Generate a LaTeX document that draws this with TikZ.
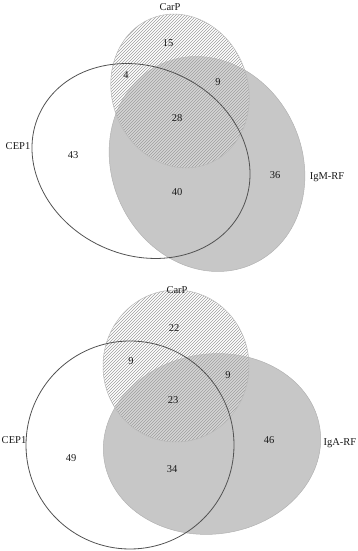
\documentclass[tikz,border=0pt]{standalone}
\usepackage{fontspec}
\setmainfont{Liberation Serif}
\usepackage{tikz}
\usetikzlibrary{patterns}

\begin{document}
\begin{tikzpicture}[
    x=1pt,y=1pt,
    font=\fontsize{10.5}{12}\selectfont,
    rfset/.style={fill=black!22,draw=black!30,line width=0.5pt},
    carpset/.style={fill=white,fill opacity=0.25,
      postaction={pattern=north east lines,pattern color=black!38,
        fill opacity=1,draw=black!28,line width=0.5pt}},
    cepset/.style={draw=black!68,line width=0.8pt},
    setname/.style={text=black!90,inner sep=1pt},
    count/.style={text=black!90,inner sep=1pt}
]
\useasboundingbox (0,0) rectangle (358,551);

% upper diagram: CEP1, CarP, IgM-RF
\path[rfset]   (207,387) circle[x radius=95,y radius=110,rotate=25];
\path[carpset] (180,460) circle[x radius=68,y radius=78,rotate=20];
\path[cepset]  (141,390) circle[x radius=112,y radius=94,rotate=-25];

\node[setname] (carpA) at (170,544) {CarP};
\node[setname] (cepA)  at (18,405)  {CEP1};
\node[setname] (igm)   at (327,374) {IgM-RF};

\node[count] (a15) at (168,508) {15};
\node[count] (a4)  at (126,476) {4};
\node[count] (a9)  at (218,469) {9};
\node[count] (a28) at (177,433) {28};
\node[count] (a43) at (73,396)  {43};
\node[count] (a40) at (177,359) {40};
\node[count] (a36) at (275,376) {36};

% lower diagram: CEP1, CarP, IgA-RF
\path[rfset]   (212,107) circle[x radius=109,y radius=90,rotate=8];
\path[carpset] (176,185) circle[x radius=73,y radius=76];
\path[cepset]  (130,106) circle[radius=104];

\node[setname] (carpB) at (177,261) {CarP};
\node[setname] (cepB)  at (14,111)  {CEP1};
\node[setname] (iga)   at (340,108) {IgA-RF};

\node[count] (b22) at (174,223) {22};
\node[count] (b9l) at (131,190) {9};
\node[count] (b9r) at (228,176) {9};
\node[count] (b23) at (173,151) {23};
\node[count] (b49) at (71,93)   {49};
\node[count] (b34) at (172,82)  {34};
\node[count] (b46) at (269,111) {46};
\end{tikzpicture}
\end{document}
